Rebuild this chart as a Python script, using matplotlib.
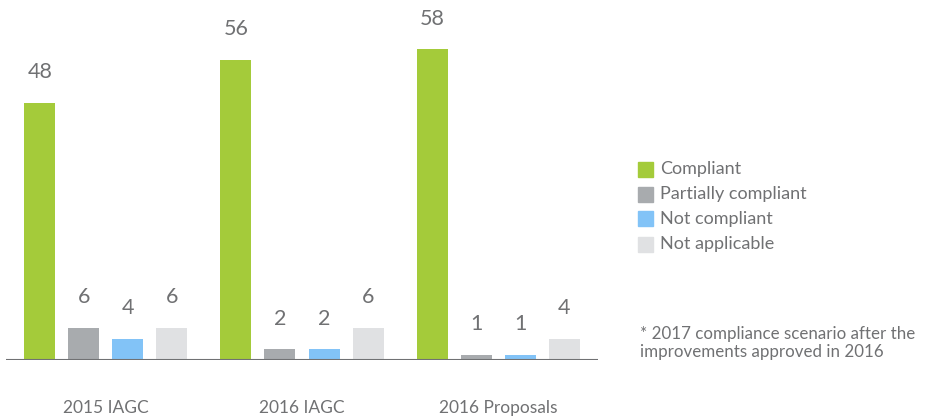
import matplotlib
matplotlib.use("Agg")
import matplotlib.pyplot as plt
from matplotlib.patches import Rectangle
import numpy as np

# Compliance counts per review round
groups = ["2015 IAGC", "2016 IAGC", "2016 Proposals"]
series = ["Compliant", "Partially compliant", "Not compliant", "Not applicable"]
compliant = [48, 56, 58]
partially = [6, 2, 1]
not_compliant = [4, 2, 1]
not_applicable = [6, 6, 4]
note = "* 2017 compliance scenario after the\nimprovements approved in 2016"

colors = ["#a4cb3a", "#a8abae", "#82c3f7", "#e0e1e3"]
txt = "#707173"
plt.rcParams["font.family"] = ["Lato", "DejaVu Sans"]

W, H = 930, 417
fig = plt.figure(figsize=(W / 100, H / 100), dpi=100)
ax = fig.add_axes([6 / W, 57 / H, 592 / W, 360 / H])

x = np.arange(len(groups))
step = 44 / 196
width = 31 / 196
for i, (vals, c) in enumerate(zip([compliant, partially, not_compliant, not_applicable], colors)):
    pos = x + (i - 1.5) * step
    ax.bar(pos, vals, width=width, color=c, zorder=2)
    for px, v in zip(pos, vals):
        ax.annotate(str(v), (px, v), xytext=(0, 22), textcoords="offset points",
                    ha="center", va="center", fontsize=15.5, color=txt)

ax.set_xlim(-0.51, 2.51)
ax.set_ylim(0, 67.2)
ax.axhline(0, color=txt, lw=1.5, zorder=3)
for s in ax.spines.values():
    s.set_visible(False)
ax.set_yticks([])
ax.set_xticks(x)
ax.set_xticklabels(groups, fontsize=12.5, color=txt)
ax.tick_params(axis="x", length=0, pad=29)

# legend drawn as swatches + labels on the right
for i, (name, c) in enumerate(zip(series, colors)):
    yc = 169 + 25 * i
    fig.patches.append(Rectangle((638 / W, 1 - (yc + 7.5) / H), 15 / W, 15 / H,
                                 transform=fig.transFigure, color=c))
    fig.text(660 / W, 1 - yc / H, name, fontsize=13, color=txt, ha="left", va="center")

fig.text(640 / W, 1 - 343 / H, note, fontsize=12.2, color=txt,
         ha="left", va="center", linespacing=1.2)

fig.savefig("out.png", dpi=100)
